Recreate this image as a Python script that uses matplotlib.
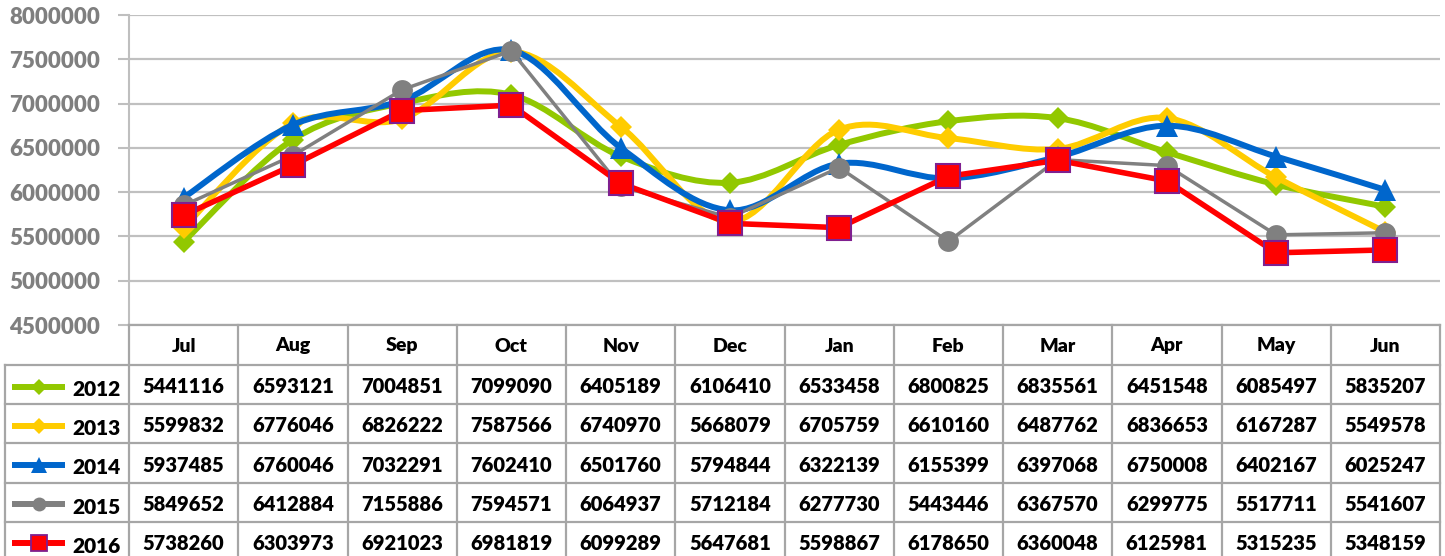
import matplotlib
matplotlib.use("Agg")
import matplotlib.pyplot as plt
from matplotlib.path import Path
from matplotlib.patches import PathPatch
import numpy as np

months = ["Jul", "Aug", "Sep", "Oct", "Nov", "Dec", "Jan", "Feb", "Mar", "Apr", "May", "Jun"]
years = ["2012", "2013", "2014", "2015", "2016"]
v2012 = [5441116, 6593121, 7004851, 7099090, 6405189, 6106410, 6533458, 6800825, 6835561, 6451548, 6085497, 5835207]
v2013 = [5599832, 6776046, 6826222, 7587566, 6740970, 5668079, 6705759, 6610160, 6487762, 6836653, 6167287, 5549578]
v2014 = [5937485, 6760046, 7032291, 7602410, 6501760, 5794844, 6322139, 6155399, 6397068, 6750008, 6402167, 6025247]
v2015 = [5849652, 6412884, 7155886, 7594571, 6064937, 5712184, 6277730, 5443446, 6367570, 6299775, 5517711, 5541607]
v2016 = [5738260, 6303973, 6921023, 6981819, 6099289, 5647681, 5598867, 6178650, 6360048, 6125981, 5315235, 5348159]
yticks = [4500000, 5000000, 5500000, 6000000, 6500000, 7000000, 7500000, 8000000]

series = [v2012, v2013, v2014, v2015, v2016]
colors = ["#92C800", "#FFCC00", "#0066CC", "#808080", "#FF0000"]
smooth = [True, True, True, False, False]
markers = ["D", "D", "^", "o", "s"]
msizes = [11.5, 11.5, 16, 15, 17]
lws = [4.3, 4.3, 4.3, 2.5, 4.0]
medges = ["none", "none", "none", "none", "#7F1F8F"]

W, H = 1445, 556
plt.rcParams['font.family'] = ['Lato', 'DejaVu Sans']
fig = plt.figure(figsize=(W / 100, H / 100), dpi=100)

x0, x1 = 129, 1440
ytop, ybot = 15, 325
ax = fig.add_axes([x0 / W, 1 - ybot / H, (x1 - x0) / W, (ybot - ytop) / H])
ax.set_xlim(-0.5, len(months) - 0.5)
ax.set_ylim(yticks[0], yticks[-1])
ax.set_yticks(yticks)
ax.set_yticklabels([str(t) for t in yticks], fontsize=16, fontweight='heavy', color='#7F7F7F')
ax.tick_params(axis='y', length=8, width=1.5, color='#BFBFBF', pad=13)
ax.set_xticks([])
ax.grid(axis='y', color='#C0C0C0', linewidth=1.6)
ax.set_axisbelow(True)
for s in ['top', 'right', 'bottom']:
    ax.spines[s].set_visible(False)
ax.spines['left'].set_color('#BFBFBF')
ax.spines['left'].set_linewidth(1.5)


def bezier_path(xs, ys):
    pts = np.column_stack([xs, ys]).astype(float)
    n = len(pts)
    verts = [pts[0]]
    codes = [Path.MOVETO]
    for i in range(n - 1):
        p0 = pts[i - 1] if i > 0 else pts[i]
        p1 = pts[i]
        p2 = pts[i + 1]
        p3 = pts[i + 2] if i + 2 < n else pts[i + 1]
        c1 = p1 + (p2 - p0) / 6.0
        c2 = p2 - (p3 - p1) / 6.0
        verts += [c1, c2, p2]
        codes += [Path.CURVE4] * 3
    return Path(verts, codes)


xs = np.arange(len(months))
for k, vals in enumerate(series):
    z = 3 + k
    if smooth[k]:
        patch = PathPatch(bezier_path(xs, vals), facecolor='none', edgecolor=colors[k],
                          linewidth=lws[k], zorder=z, capstyle='round', joinstyle='round')
        ax.add_patch(patch)
    else:
        ax.plot(xs, vals, color=colors[k], linewidth=lws[k], zorder=z, solid_joinstyle='round')
    ax.plot(xs, vals, linestyle='none', marker=markers[k], markersize=msizes[k],
            markerfacecolor=colors[k], markeredgecolor=(medges[k] if medges[k] != 'none' else colors[k]),
            markeredgewidth=(1.5 if medges[k] != 'none' else 0), zorder=z + 0.5)

# ---- data table ----
tax = fig.add_axes([0, 0, 1, 1])
tax.set_xlim(0, W)
tax.set_ylim(H, 0)
tax.axis('off')
tax.patch.set_alpha(0)

fig.canvas.draw()
def xpix(v):
    return ax.transData.transform((v, yticks[0]))[0] * 100 / fig.dpi

bounds = [xpix(i - 0.5) for i in range(len(months) + 1)]
centers = [xpix(i) for i in range(len(months))]
lc = '#A6A6A6'
lw_t = 1.6
header_top, header_bot = 325, 365
row_h = 39.2
legend_left = 5
row_lines = [header_bot + r * row_h for r in range(len(years) + 1)]

tax.plot([bounds[0], bounds[-1]], [header_top, header_top], color=lc, lw=lw_t)
for b in bounds:
    tax.plot([b, b], [header_top, H + 5], color=lc, lw=lw_t)
tax.plot([legend_left, legend_left], [header_bot, H + 5], color=lc, lw=lw_t)
for yl in row_lines:
    tax.plot([legend_left, bounds[-1]], [yl, yl], color=lc, lw=lw_t)

for i, m in enumerate(months):
    tax.text(centers[i], (header_top + header_bot) / 2 + 1, m, ha='center', va='center',
             fontsize=14, fontweight='heavy', color='black')

for r, vals in enumerate(series):
    yc = header_bot + r * row_h + row_h / 2 + 2
    for i, v in enumerate(vals):
        tax.text(centers[i], yc, str(v), ha='center', va='center', fontsize=14.5,
                 fontweight='heavy', color='black')
    # legend key
    tax.plot([12, 65], [yc, yc], color=colors[r], lw=4.3, solid_capstyle='butt')
    ms = {"D": 8.5, "^": 11, "o": 10, "s": 11}[markers[r]]
    tax.plot([38.5], [yc], marker=markers[r], markersize=ms, markerfacecolor=colors[r],
             markeredgecolor=(medges[r] if medges[r] != 'none' else colors[r]),
             markeredgewidth=(1.3 if medges[r] != 'none' else 0))
    tax.text(72, yc + 3, years[r], ha='left', va='center', fontsize=15, fontweight='heavy', color='black')

fig.savefig("out.png", dpi=100)
